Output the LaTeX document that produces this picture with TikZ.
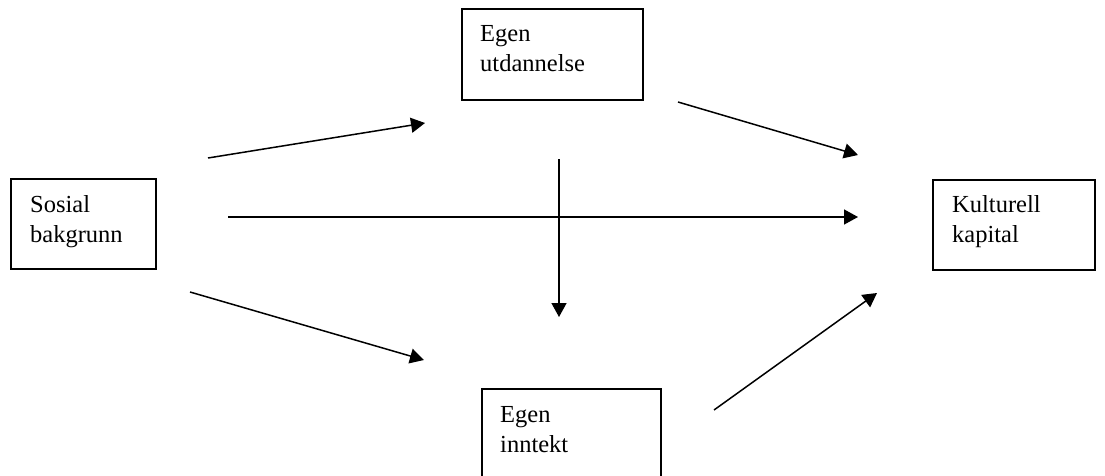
\documentclass[tikz,border=0pt]{standalone}
\usepackage{fontspec}
\setmainfont{Liberation Serif}
\usetikzlibrary{arrows.meta}
\tikzset{
  box/.style={draw, line width=1.8pt, anchor=north west, inner sep=0pt},
  lbl/.style={anchor=base west, inner sep=0pt},
  conn/.style={line width=1.5pt, -{Triangle[length=14pt,width=15pt]}}
}
\newcommand{\boxtext}[2]{\parbox[t]{5cm}{\fontsize{24.5}{30}\selectfont\raggedright #1\\#2}}
\begin{document}
\begin{tikzpicture}[x=1pt,y=-1pt]
\useasboundingbox (0,0) rectangle (1105,476);
% boxes
\node[box, minimum width=145pt, minimum height=90pt] (sos) at (10,178) {};
\node[box, minimum width=181pt, minimum height=91pt] (utd) at (461,8) {};
\node[box, minimum width=162pt, minimum height=90pt] (kul) at (932,179) {};
\node[box, minimum width=179pt, minimum height=92pt] (inn) at (481,388) {};
% texts
\node[lbl] (sost) at (30,212) {\boxtext{Sosial}{bakgrunn}};
\node[lbl] (utdt) at (480,42) {\boxtext{Egen}{utdannelse}};
\node[lbl] (kult) at (952,212) {\boxtext{Kulturell}{kapital}};
\node[lbl] (innt) at (500,422) {\boxtext{Egen}{inntekt}};
% connector end points
\coordinate (a1s) at (208,158);  \coordinate (a1e) at (425,123);
\coordinate (a2s) at (678,102);  \coordinate (a2e) at (858,155);
\coordinate (a3s) at (228,217);  \coordinate (a3e) at (858,217);
\coordinate (a4s) at (559,159);  \coordinate (a4e) at (559,317);
\coordinate (a5s) at (190,292);  \coordinate (a5e) at (424,360);
\coordinate (a6s) at (714,410);  \coordinate (a6e) at (877,293);
% connectors
\draw[conn] (a1s) -- (a1e);
\draw[conn] (a2s) -- (a2e);
\draw[conn] (a3s) -- (a3e);
\draw[conn] (a4s) -- (a4e);
\draw[conn] (a5s) -- (a5e);
\draw[conn] (a6s) -- (a6e);
\end{tikzpicture}
\end{document}
